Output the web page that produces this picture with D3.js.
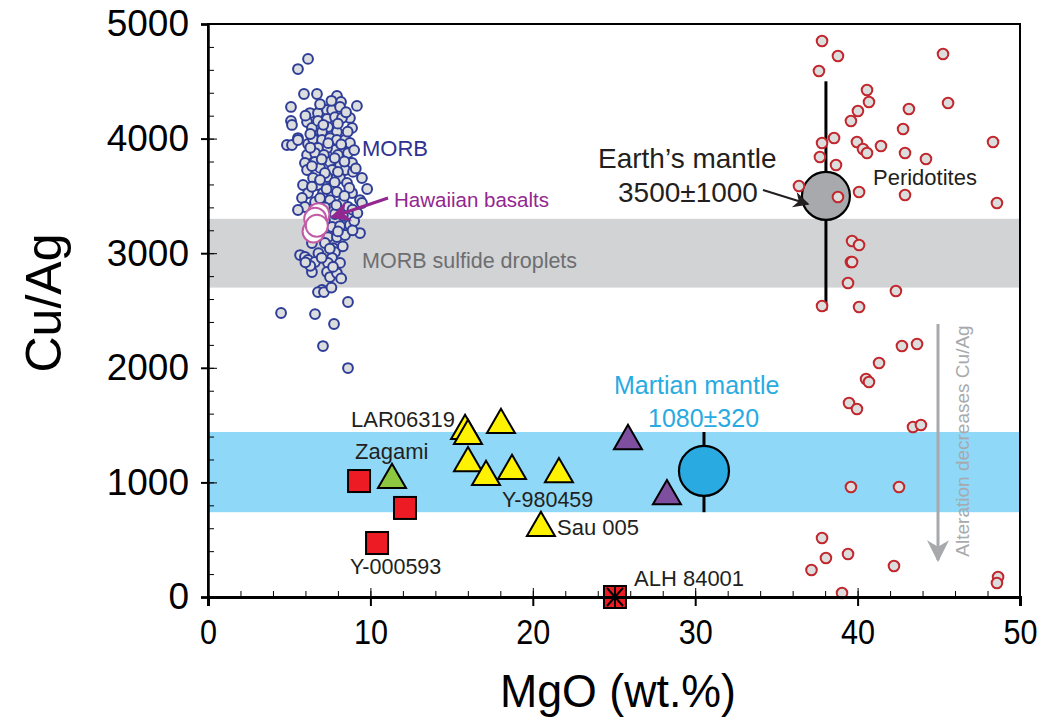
<!DOCTYPE html>
<html>
<head>
<meta charset="utf-8">
<script src="https://cdn.jsdelivr.net/npm/d3@7.9.0/dist/d3.min.js"></script>
<style>
  body { margin: 0; background: #fff; }
  svg { font-family: "Liberation Sans", Arial, sans-serif; }
</style>
</head>
<body>
<svg id="chart" width="1047" height="724"></svg>
<script>
// MORB glasses  [MgO, Cu/Ag]
const morb = [
  [6.16,4695],[5.54,4607],[5.91,4389],[6.71,4389],[7.94,4372],[8.19,4320],[9.17,4285],[5.11,4276],[5.11,4154],[5.17,4119],
  [6.28,4223],[6.77,4223],[7.33,4250],[7.64,4250],[8.13,4276],[8.74,4180],[8.87,4093],[6.10,4145],[6.40,4093],[6.77,4154],
  [7.33,4171],[7.82,4188],[8.25,4180],[7.39,4101],[7.02,4058],[7.94,4058],[5.54,4005],[6.47,4005],
  [4.86,3944],[5.17,3944],[5.54,3988],[6.16,3953],[6.47,3997],[7.02,3988],[7.51,4005],[7.94,3988],[8.44,3988],[8.74,3962],
  [8.25,3901],[7.82,3901],[7.33,3918],[6.77,3918],[6.10,3857],[6.59,3874],[7.14,3857],[8.00,3857],[8.62,3874],[5.97,3787],
  [6.59,3796],[7.51,3796],[8.13,3770],[8.87,3787],[6.10,3726],[6.90,3744],[7.64,3726],[8.44,3726],[8.93,3709],[6.47,3656],
  [7.33,3665],[8.13,3656],[9.48,3656],[5.85,3595],[6.77,3595],[7.64,3578],[8.56,3613],[6.16,3525],[7.08,3525],[7.94,3534],
  [8.87,3525],[5.79,3482],[6.59,3447],[7.51,3464],[8.31,3447],[9.36,3464],[5.97,3403],[7.64,3394],[8.62,3403],[9.48,3438],
  [5.54,3377],[7.82,3342],[8.62,3316],[9.36,3176],[7.64,3229],[8.13,3237],[8.74,3246],[7.39,3141],[7.94,3141],[8.44,3159],
  [6.40,3089],[7.20,3089],[7.70,3045],[7.82,3010],[5.67,2984],[5.97,2967],[6.16,2941],[6.59,2923],[7.64,2958],[7.39,2915],
  [8.13,2915],[6.40,2836],[7.33,2836],[7.51,2792],[7.94,2827],[7.02,2679],
  [6.77,2661],[7.14,2661],[8.62,2574],[4.50,2478],[6.59,2469],[7.76,2382],[7.08,2190],[8.62,1998],
  [6.9,4300],[7.6,4330],[8.5,4230],[6.0,4200],[7.1,4120],[8.0,4130],[8.6,4060],[6.3,4040],[7.4,3960],[8.2,3950],
  [9.0,3900],[6.3,3920],[7.0,3820],[7.8,3830],[8.4,3800],[9.1,3740],[6.4,3760],[7.2,3700],[8.0,3710],[6.9,3640],
  [7.8,3620],[8.7,3570],[6.4,3580],[7.3,3560],[8.4,3500],[6.9,3480],[7.9,3420],[8.9,3380],[7.2,3400],[8.3,3330],
  [9.0,3280],[7.2,3290],[8.0,3190],[8.9,3200],[7.5,3040],[8.3,3060],[6.8,3000],[7.0,2960],[6.3,2890],[7.7,2880],
  [8.2,2780],[7.6,2700],[6.0,2920],[9.2,3350],[9.8,3560]
];

// Hawaiian basalts
const hawaii = [[6.8,3340],[6.6,3300],[6.5,3190],[6.7,3240]];

// Peridotites
const peridotites = [
  [37.81,4852],[38.79,4721],[45.26,4738],[37.62,4590],[40.58,4424],[40.70,4319],[45.57,4311],[40.02,4241],[43.16,4258],
  [39.59,4154],[42.80,4084],[38.55,4005],[37.81,3962],[39.96,3970],[40.33,3909],[40.58,3874],[41.44,3935],[42.92,3874],
  [48.34,3970],[37.68,3839],[44.21,3822],[38.67,3770],[36.39,3586],[38.79,3490],[40.09,3534],[42.92,3508],[48.58,3438],
  [39.66,3106],[40.09,3072],[39.59,2923],[39.66,2923],[39.41,2740],[42.36,2670],[37.81,2539],[40.09,2531],[42.73,2190],
  [43.66,2208],[41.32,2042],[40.52,1902],[40.70,1876],[39.47,1693],[39.96,1640],[43.41,1483],[43.90,1501],[39.59,960],
  [42.55,960],[37.81,515],[38.05,340],[37.16,236],[39.41,375],[42.24,271],[39.04,35],[48.65,175],[48.58,122]
];

// Martian meteorites
const yellowTri = [[15.83,1475],[16.01,1431],[18.04,1527],[16.01,1195],[17.12,1073],[18.72,1126],[21.61,1099],[20.50,628]];
const purpleTri = [[25.86,1387],[28.26,907]];
const greenTri = [[11.33,1047]];
const redSquares = [[9.30,1012],[12.13,777],[10.41,471]];
const alh = [[25.06,0]];

// reference estimates
const earthMantle = { mgo: 38.05, value: 3500, lo: 2500, hi: 4500 };
const marsMantle = { mgo: 30.54, value: 1100, lo: 740, hi: 1440 };
const sulfideBand = [2700, 3300];
const marsBand = [740, 1440];

const xTicks = [0, 10, 20, 30, 40, 50];
const yTicks = [0, 1000, 2000, 3000, 4000, 5000];

const svg = d3.select('#chart');
const x = d3.scaleLinear().domain([0, 50]).range([208, 1020]);
const y = d3.scaleLinear().domain([0, 5000]).range([597, 24]);

// bands
svg.append('rect')
  .attr('x', x(0)).attr('width', x(50) - x(0))
  .attr('y', y(sulfideBand[1])).attr('height', y(sulfideBand[0]) - y(sulfideBand[1]))
  .attr('fill', '#d1d3d4');
svg.append('rect')
  .attr('x', x(0)).attr('width', x(50) - x(0))
  .attr('y', y(marsBand[1])).attr('height', y(marsBand[0]) - y(marsBand[1]))
  .attr('fill', '#8fd8f7');

// MORB
svg.append('g').selectAll('circle').data(morb).join('circle')
  .attr('cx', d => x(d[0])).attr('cy', d => y(d[1])).attr('r', 4.9)
  .attr('fill', '#dcdddd').attr('stroke', '#2e3d98').attr('stroke-width', 2);

// Hawaiian
svg.append('g').selectAll('circle').data(hawaii).join('circle')
  .attr('cx', d => x(d[0])).attr('cy', d => y(d[1])).attr('r', 11)
  .attr('fill', '#fff').attr('stroke', '#c25ba5').attr('stroke-width', 2);

// error bars and mantle circles
[[earthMantle, '#a7a9ac'], [marsMantle, '#29abe2']].forEach(([m, col], i) => {
  svg.append('line')
    .attr('x1', x(m.mgo)).attr('x2', x(m.mgo))
    .attr('y1', y(m.lo)).attr('y2', y(m.hi))
    .attr('stroke', '#000').attr('stroke-width', 3);
  svg.append('circle')
    .attr('cx', x(m.mgo)).attr('cy', y(m.value)).attr('r', i === 0 ? 24 : 25)
    .attr('fill', col).attr('stroke', '#000').attr('stroke-width', 2.2);
});

// Peridotites
svg.append('g').selectAll('circle').data(peridotites).join('circle')
  .attr('cx', d => x(d[0])).attr('cy', d => y(d[1])).attr('r', 5.3)
  .attr('fill', '#dcdddd').attr('stroke', '#c1272d').attr('stroke-width', 2);

// triangles
const tri = d3.symbol().type(d3.symbolTriangle).size(340);
function drawTri(data, fill) {
  svg.append('g').selectAll('path').data(data).join('path')
    .attr('d', tri)
    .attr('transform', d => `translate(${x(d[0])},${y(d[1]) + 3})`)
    .attr('fill', fill).attr('stroke', '#000').attr('stroke-width', 2);
}
drawTri(yellowTri, '#fff200');
drawTri(purpleTri, '#7f4f9f');
drawTri(greenTri, '#8dc63f');

// squares
svg.append('g').selectAll('rect').data(redSquares.concat(alh)).join('rect')
  .attr('x', d => x(d[0]) - 11).attr('y', d => y(d[1]) - 11)
  .attr('width', 22).attr('height', 22)
  .attr('fill', '#ed1c24').attr('stroke', '#000').attr('stroke-width', 2);
alh.forEach(d => {
  const cx = x(d[0]), cy = y(d[1]);
  svg.append('path')
    .attr('d', `M${cx - 8},${cy - 9}L${cx + 8},${cy + 9}M${cx + 8},${cy - 9}L${cx - 8},${cy + 9}M${cx},${cy - 11}V${cy + 11}`)
    .attr('stroke', '#000').attr('stroke-width', 2);
});

// arrows
const defs = svg.append('defs');
function marker(id, color, w, h) {
  defs.append('marker').attr('id', id)
    .attr('viewBox', '0 0 10 10').attr('refX', 9).attr('refY', 5)
    .attr('markerWidth', w).attr('markerHeight', h).attr('orient', 'auto')
    .attr('markerUnits', 'userSpaceOnUse')
    .append('path').attr('d', 'M0,0L10,5L0,10L3,5Z').attr('fill', color);
}
marker('ahPurple', '#92278f', 22, 20);
marker('ahDark', '#231f20', 22, 16);
marker('ahGray', '#a7a9ac', 22, 30);

svg.append('line').attr('x1', 388).attr('y1', 198).attr('x2', 332).attr('y2', 217)
  .attr('stroke', '#92278f').attr('stroke-width', 3).attr('marker-end', 'url(#ahPurple)');
svg.append('line').attr('x1', 763).attr('y1', 190).attr('x2', 808).attr('y2', 204)
  .attr('stroke', '#231f20').attr('stroke-width', 2).attr('marker-end', 'url(#ahDark)');
svg.append('line').attr('x1', 938).attr('y1', 324).attr('x2', 938).attr('y2', 560)
  .attr('stroke', '#a7a9ac').attr('stroke-width', 3).attr('marker-end', 'url(#ahGray)');

// axes
const axisG = svg.append('g');
// frame
axisG.append('rect').attr('x', x(0)).attr('y', y(5000))
  .attr('width', x(50) - x(0)).attr('height', y(0) - y(5000))
  .attr('fill', 'none').attr('stroke', '#000').attr('stroke-width', 2);

const yMinor = d3.range(0, 5001, 200);
const xMinor = d3.range(0, 51, 2);
axisG.append('g').attr('transform', `translate(${x(0)},0)`)
  .call(d3.axisLeft(y).tickValues(yMinor).tickSize(-6).tickFormat(''))
  .call(g => g.select('.domain').remove());
axisG.append('g').attr('transform', `translate(${x(0)},0)`)
  .call(d3.axisLeft(y).tickValues(yTicks).tickSizeInner(-9).tickSizeOuter(0).tickFormat(''))
  .call(g => g.select('.domain').remove());
axisG.append('g').attr('transform', `translate(${x(0)},0)`)
  .call(d3.axisLeft(y).tickValues(yTicks).tickSize(7).tickPadding(12).tickFormat(d3.format('d')))
  .call(g => g.select('.domain').attr('stroke-width', 2.5))
  .call(g => g.selectAll('line').attr('stroke-width', 2))
  .call(g => g.selectAll('text').attr('font-size', 37).attr('fill', '#000')
    .attr('font-family', '"Liberation Sans", Arial, sans-serif'));

axisG.append('g').attr('transform', `translate(0,${y(0)})`)
  .call(d3.axisBottom(x).tickValues(xMinor).tickSize(-6).tickFormat(''))
  .call(g => g.select('.domain').remove());
axisG.append('g').attr('transform', `translate(0,${y(0)})`)
  .call(d3.axisBottom(x).tickValues(xTicks).tickSizeInner(-9).tickSizeOuter(0).tickFormat(''))
  .call(g => g.select('.domain').remove());
axisG.append('g').attr('transform', `translate(0,${y(0)})`)
  .call(d3.axisBottom(x).tickValues(xTicks).tickSize(9).tickPadding(12).tickFormat(d3.format('d')))
  .call(g => g.select('.domain').attr('stroke-width', 3))
  .call(g => g.selectAll('line').attr('stroke-width', 2))
  .call(g => g.selectAll('text').attr('font-size', 36).attr('fill', '#000')
    .attr('transform', 'scale(0.85,1)')
    .attr('font-family', '"Liberation Sans", Arial, sans-serif'));
axisG.selectAll('.tick line').attr('stroke', '#000');

// axis titles
svg.append('text').attr('x', 618).attr('y', 707).attr('text-anchor', 'middle')
  .attr('font-size', 46).attr('textLength', 236).attr('lengthAdjust', 'spacingAndGlyphs')
  .text('MgO (wt.%)');
svg.append('text').attr('transform', 'translate(61,303) rotate(-90)').attr('text-anchor', 'middle')
  .attr('font-size', 50).text('Cu/Ag');

// annotations
const labels = [
  { t: 'MORB', x: 362, y: 156, s: 22, c: '#2e3192' },
  { t: 'Hawaiian basalts', x: 394, y: 207, s: 20.5, c: '#92278f' },
  { t: 'MORB sulfide droplets', x: 362, y: 268, s: 21.5, c: '#6d6e71' },
  { t: 'Earth\u2019s mantle', x: 598, y: 168, s: 28, c: '#231f20' },
  { t: '3500\u00b11000', x: 618, y: 202, s: 28, c: '#231f20' },
  { t: 'Peridotites', x: 873, y: 185, s: 22, c: '#231f20' },
  { t: 'Martian mantle', x: 614, y: 394, s: 25, c: '#29abe2' },
  { t: '1080\u00b1320', x: 648, y: 427, s: 25, c: '#29abe2' },
  { t: 'LAR06319', x: 351, y: 427, s: 22, c: '#231f20' },
  { t: 'Zagami', x: 355, y: 459, s: 22, c: '#231f20' },
  { t: 'Y-980459', x: 502, y: 507, s: 21.5, c: '#231f20' },
  { t: 'Sau 005', x: 557, y: 535, s: 22, c: '#231f20' },
  { t: 'Y-000593', x: 350, y: 574, s: 21.5, c: '#231f20' },
  { t: 'ALH 84001', x: 634, y: 586, s: 22, c: '#231f20' }
];
svg.append('g').selectAll('text').data(labels).join('text')
  .attr('x', d => d.x).attr('y', d => d.y)
  .attr('font-size', d => d.s).attr('fill', d => d.c).text(d => d.t);

svg.append('text').attr('transform', 'translate(969,441) rotate(-90)').attr('text-anchor', 'middle')
  .attr('font-size', 19).attr('fill', '#a7a9ac').text('Alteration decreases Cu/Ag');
</script>
</body>
</html>
